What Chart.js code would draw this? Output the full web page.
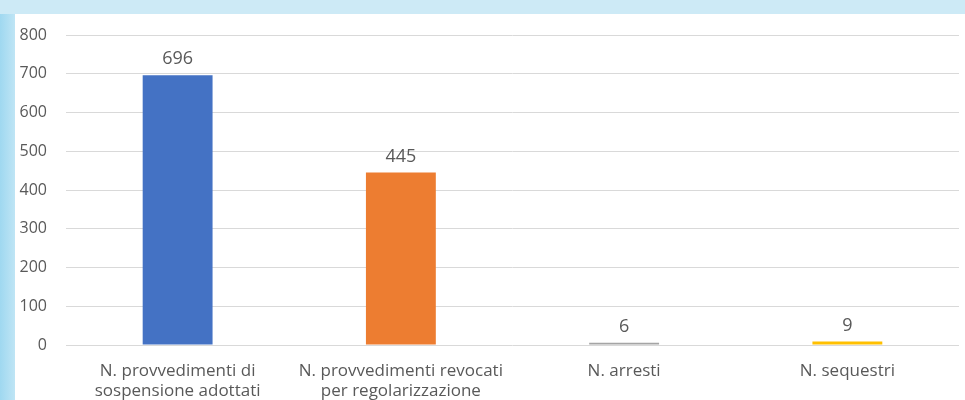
<!DOCTYPE html>
<html>
<head>
<meta charset="utf-8">
<script src="https://cdn.jsdelivr.net/npm/chart.js@4.4.0/dist/chart.umd.min.js"></script>
<style>
  html, body { margin: 0; padding: 0; }
  body { width: 965px; height: 400px; background: #cdeaf6; position: relative; overflow: hidden; }
  #stripe { position: absolute; left: 0; top: 14px; width: 15px; height: 386px; background: linear-gradient(to right, #9fd8f0, #bfe5f5); }
  #panel { position: absolute; left: 15px; top: 14px; width: 950px; height: 386px; background: #ffffff; }
</style>
</head>
<body>
<div id="stripe"></div>
<div id="panel"><canvas id="chart" width="950" height="386"></canvas></div>
<script>
// categorie e valori
const categories = [
  ["N. provvedimenti di", "sospensione adottati"],
  ["N. provvedimenti revocati", "per regolarizzazione"],
  "N. arresti",
  "N. sequestri"
];
const values = [696, 445, 6, 9];
const barColors = ["#4472C4", "#ED7D31", "#A5A5A5", "#FFC000"];
const yTicks = [0, 100, 200, 300, 400, 500, 600, 700, 800];

const textColor = "#595959";
const fontFamily = "'Open Sans', sans-serif";

// etichette sopra le barre
const valueLabels = {
  id: "valueLabels",
  afterDatasetsDraw(chart) {
    const ctx = chart.ctx;
    const meta = chart.getDatasetMeta(0);
    ctx.save();
    ctx.fillStyle = textColor;
    ctx.font = "18px " + fontFamily;
    ctx.textAlign = "center";
    ctx.textBaseline = "bottom";
    meta.data.forEach((bar, i) => {
      ctx.fillText(values[i], bar.x, bar.y - 7);
    });
    ctx.restore();
  }
};

new Chart(document.getElementById("chart").getContext("2d"), {
  type: "bar",
  data: {
    labels: categories,
    datasets: [{
      data: values,
      backgroundColor: barColors,
      barPercentage: 0.313,
      categoryPercentage: 1
    }]
  },
  options: {
    responsive: false,
    animation: false,
    layout: { padding: { top: 21, right: 6, left: 0, bottom: 0 } },
    plugins: {
      legend: { display: false },
      tooltip: { enabled: false }
    },
    scales: {
      x: {
        grid: { display: false, drawTicks: false },
        border: { display: false },
        ticks: {
          color: textColor,
          font: { family: fontFamily, size: 17, lineHeight: 1.2 },
          padding: 16,
          maxRotation: 0
        },
        afterFit: s => { s.height = 55; }
      },
      y: {
        min: 0,
        max: 800,
        afterBuildTicks: s => { s.ticks = yTicks.map(v => ({ value: v })); },
        grid: { color: "#d9d9d9", lineWidth: 1, drawTicks: false },
        border: { display: false },
        ticks: {
          color: textColor,
          font: { family: fontFamily, size: 16 },
          padding: 19
        },
        afterFit: s => { s.width = 51; s.paddingTop = 0; s.paddingBottom = 0; }
      }
    }
  },
  plugins: [valueLabels]
});
</script>
</body>
</html>
